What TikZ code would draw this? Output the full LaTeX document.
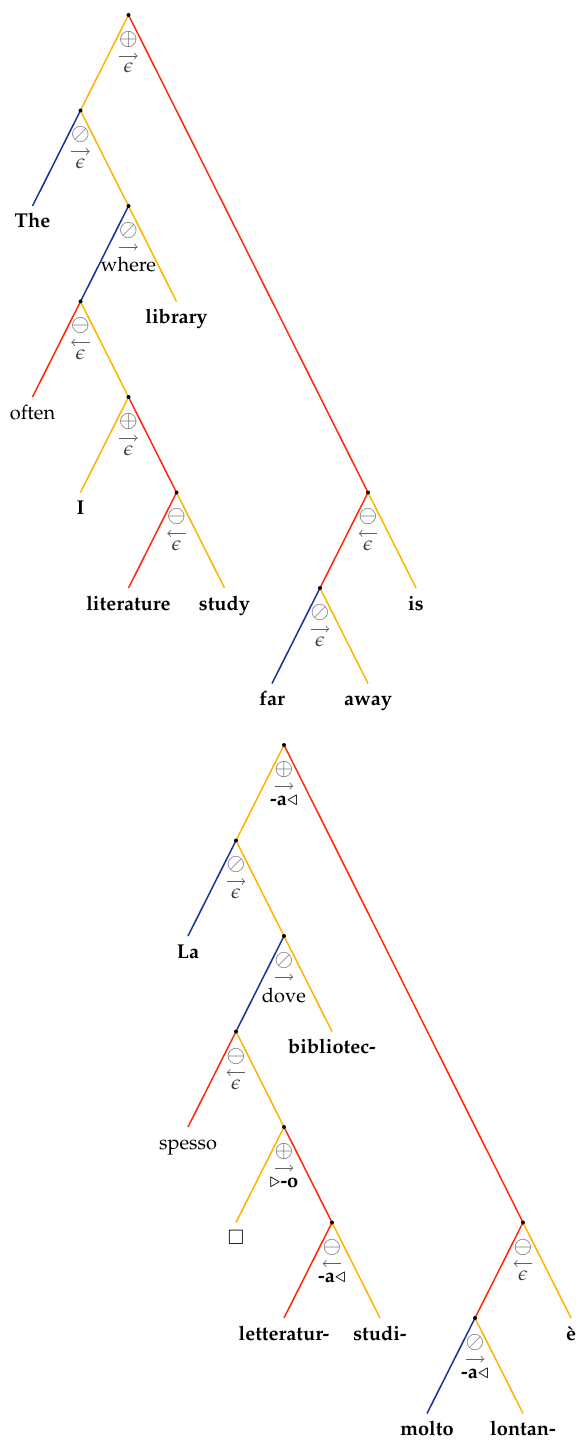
\documentclass[tikz,border=0pt]{standalone}
\usepackage[T1]{fontenc}
\usepackage{mathpazo}
\usepackage{amssymb}
\definecolor{tor}{RGB}{255,178,0}
\definecolor{tre}{RGB}{255,40,10}
\definecolor{tbl}{RGB}{25,50,150}
\definecolor{tgr}{RGB}{95,95,95}
\definecolor{tep}{RGB}{60,60,60}
\tikzset{
  edge/.style={line width=0.75pt},
  eo/.style={edge,draw=tor},
  er/.style={edge,draw=tre},
  eb/.style={edge,draw=tbl},
  dot/.style={circle,fill=black,inner sep=0pt,minimum size=2pt},
  leaf/.style={anchor=base,inner sep=0pt,font=\bfseries},
  leafn/.style={anchor=base,inner sep=0pt},
  sym/.style={inner sep=0pt,text=tgr},
  wrd/.style={inner sep=0pt,anchor=base},
  arr/.style={draw=tgr,line width=0.4pt},
}
\newcommand\eps{\textcolor{tep}{$\epsilon$}}
% #1 node, #2 symbol, #3 arrow direction (-> or <-), #4 text, #5 baseline shift (pt)
\newcommand\oplab[5]{%
  \node[sym] (#1s) at ([yshift=-12.25pt]#1) {\scalebox{1.15}{$#2$}};
  \coordinate (#1al) at ([xshift=-4.6pt,yshift=-20.5pt]#1);
  \coordinate (#1ar) at ([xshift=4.6pt,yshift=-20.5pt]#1);
  \draw[arr,#3] (#1al) -- (#1ar);
  \node[wrd] (#1t) at ([yshift=-#5pt]#1) {#4};
}
\newcommand\leafat[3]{% name, style, text
  \node[#2] (#1t) at ([yshift=-11pt]#1) {#3};
}
\begin{document}
\begin{tikzpicture}[x=0.5pt,y=-0.5pt]
\useasboundingbox (0,0) rectangle (580,1444);
% ---------- tree 1 ----------
\coordinate (a1) at (128.5,15);
\coordinate (a2) at (80.5,110.5);
\coordinate (a3) at (128.5,206);
\coordinate (a4) at (80.5,301.5);
\coordinate (a5) at (128.5,397);
\coordinate (a6) at (176.5,492.5);
\coordinate (a7) at (368,492.5);
\coordinate (a8) at (320,588);
\coordinate (lThe) at (32.5,206);
\coordinate (llibrary) at (176.5,301.5);
\coordinate (loften) at (32.5,397);
\coordinate (lI) at (80.5,492.5);
\coordinate (lliterature) at (128.5,588);
\coordinate (lstudy) at (224.5,588);
\coordinate (lis) at (416,588);
\coordinate (lfar) at (272,683.5);
\coordinate (laway) at (368,683.5);
\draw[eo] (a1) -- (a2);
\draw[er] (a1) -- (a7);
\draw[eb] (a2) -- (lThe);
\draw[eo] (a2) -- (a3);
\draw[eb] (a3) -- (a4);
\draw[eo] (a3) -- (llibrary);
\draw[er] (a4) -- (loften);
\draw[eo] (a4) -- (a5);
\draw[eo] (a5) -- (lI);
\draw[er] (a5) -- (a6);
\draw[er] (a6) -- (lliterature);
\draw[eo] (a6) -- (lstudy);
\draw[er] (a7) -- (a8);
\draw[eo] (a7) -- (lis);
\draw[eb] (a8) -- (lfar);
\draw[eo] (a8) -- (laway);
\foreach \n in {a1,a2,a3,a4,a5,a6,a7,a8} \node[dot] (\n d) at (\n) {};
\oplab{a1}{\oplus}{->}{\eps}{29}
\oplab{a2}{\oslash}{->}{\eps}{29}
\oplab{a3}{\oslash}{->}{where}{33}
\oplab{a4}{\ominus}{<-}{\eps}{29}
\oplab{a5}{\oplus}{->}{\eps}{29}
\oplab{a6}{\ominus}{<-}{\eps}{29}
\oplab{a7}{\ominus}{<-}{\eps}{29}
\oplab{a8}{\oslash}{->}{\eps}{29}
\leafat{lThe}{leaf}{The}
\leafat{llibrary}{leaf}{library}
\leafat{loften}{leafn}{often}
\leafat{lI}{leaf}{I}
\leafat{lliterature}{leaf}{literature}
\leafat{lstudy}{leaf}{study}
\leafat{lis}{leaf}{is}
\leafat{lfar}{leaf}{far}
\leafat{laway}{leaf}{away}
% ---------- tree 2 ----------
\coordinate (b1) at (284,745);
\coordinate (b2) at (236,840.5);
\coordinate (b3) at (284,936);
\coordinate (b4) at (236,1031.5);
\coordinate (b5) at (284,1127);
\coordinate (b6) at (332,1222.5);
\coordinate (b7) at (523,1222.5);
\coordinate (b8) at (475,1318);
\coordinate (lLa) at (188,936);
\coordinate (lbibliotec) at (332,1031.5);
\coordinate (lspesso) at (188,1127);
\coordinate (lbox) at (236,1222.5);
\coordinate (lletteratur) at (284,1318);
\coordinate (lstudi) at (380,1318);
\coordinate (le) at (571,1318);
\coordinate (lmolto) at (427,1413.5);
\coordinate (llontan) at (523,1413.5);
\draw[eo] (b1) -- (b2);
\draw[er] (b1) -- (b7);
\draw[eb] (b2) -- (lLa);
\draw[eo] (b2) -- (b3);
\draw[eb] (b3) -- (b4);
\draw[eo] (b3) -- (lbibliotec);
\draw[er] (b4) -- (lspesso);
\draw[eo] (b4) -- (b5);
\draw[eo] (b5) -- (lbox);
\draw[er] (b5) -- (b6);
\draw[er] (b6) -- (lletteratur);
\draw[eo] (b6) -- (lstudi);
\draw[er] (b7) -- (b8);
\draw[eo] (b7) -- (le);
\draw[eb] (b8) -- (lmolto);
\draw[eo] (b8) -- (llontan);
\foreach \n in {b1,b2,b3,b4,b5,b6,b7,b8} \node[dot] (\n d) at (\n) {};
\oplab{b1}{\oplus}{->}{\textbf{-a}$\triangleleft$}{30}
\oplab{b2}{\oslash}{->}{\eps}{29}
\oplab{b3}{\oslash}{->}{dove}{33}
\oplab{b4}{\ominus}{<-}{\eps}{29}
\oplab{b5}{\oplus}{->}{$\triangleright$\textbf{-o}}{30}
\oplab{b6}{\ominus}{<-}{\textbf{-a}$\triangleleft$}{30}
\oplab{b7}{\ominus}{<-}{\eps}{29}
\oplab{b8}{\oslash}{->}{\textbf{-a}$\triangleleft$}{30}
\leafat{lLa}{leaf}{La}
\leafat{lbibliotec}{leaf}{bibliotec-}
\leafat{lspesso}{leafn}{spesso}
\leafat{lbox}{leafn}{$\square$}
\leafat{lletteratur}{leaf}{letteratur-}
\leafat{lstudi}{leaf}{studi-}
\leafat{le}{leaf}{\`e}
\leafat{lmolto}{leaf}{molto}
\leafat{llontan}{leaf}{lontan-}
\end{tikzpicture}
\end{document}
